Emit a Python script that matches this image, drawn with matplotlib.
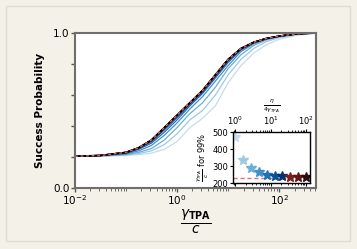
import numpy as np
import matplotlib as mpl
mpl.use('Agg')
import matplotlib.pyplot as plt
from matplotlib.patches import Rectangle

plt.rcParams['mathtext.fontset'] = 'dejavusans'

# main panel: success probability vs gamma_TPA / c
x_pts = [0.01, 0.0316, 0.1, 0.178, 0.316, 0.562, 1.0, 1.78, 3.16, 5.62,
         10.0, 17.8, 31.6, 56.2, 100.0, 224.0, 525.0]
c1 = [.205, .205, .21, .215, .225, .25, .30, .39, .45, .53, .68, .79, .87, .925, .96, .985, .998]
c2 = [.205, .206, .213, .222, .24, .28, .35, .44, .50, .60, .73, .83, .90, .945, .97, .99, .999]
c3 = [.205, .207, .216, .23, .255, .31, .39, .48, .55, .65, .77, .86, .92, .955, .975, .992, 1.0]
c4 = [.205, .208, .22, .24, .275, .34, .42, .51, .59, .69, .79, .88, .93, .96, .978, .994, 1.0]
c5 = [.205, .209, .223, .25, .29, .36, .44, .53, .61, .71, .81, .89, .935, .962, .979, .994, 1.0]
c6 = [.205, .21, .226, .255, .30, .375, .455, .54, .62, .72, .82, .895, .938, .964, .98, .995, 1.0]
c7 = [.205, .21, .228, .258, .305, .385, .465, .545, .625, .725, .825, .898, .94, .965, .98, .995, 1.0]
ref = [.205, .21, .23, .26, .31, .39, .47, .55, .63, .73, .83, .90, .94, .965, .98, .995, 1.0]

# inset: gamma/c needed for 99% vs eta/(4 gamma)
eta_ratio = [1.0, 1.67, 2.78, 4.64, 7.74, 12.9, 21.5, 35.9, 59.9, 100.0]
gamma_99 = [469, 335, 286, 265, 249, 243, 239, 235, 234, 234]
gamma_ref = 231

blues = [plt.cm.Blues(v) for v in np.linspace(0.25, 1.0, 7)]
reds = ['#7d1f1f', '#5e1616', '#2a0d0d']
colors = blues + reds

fig = plt.figure(figsize=(3.57, 2.49), dpi=100)
fig.patch.set_facecolor('#f4f1e9')
fig.patches.append(Rectangle((6/357, 8/249), 344/357, 235/249, transform=fig.transFigure,
                             fill=False, edgecolor='#e0dbce', lw=1))

ax = fig.add_axes([75/357, 61/249, 241/357, 155/249])
ax.set_facecolor('white')
for i, c in enumerate([c1, c2, c3, c4, c5, c6, c7]):
    ax.plot(x_pts, c, color=blues[i], lw=0.9)
for col in reds:
    ax.plot(x_pts, ref, color=col, lw=1.0)
ax.plot(x_pts, ref, color='black', lw=1.2)
ax.plot(x_pts, ref, color='#e06060', lw=1.0, ls='--', dashes=(2, 2))

ax.set_xscale('log')
ax.set_xlim(0.01, 525)
ax.set_ylim(0, 1)
ax.set_xticks([1e-2, 1, 1e2])
ax.xaxis.set_minor_locator(mpl.ticker.LogLocator(base=10, subs=np.arange(1, 10), numticks=20))
ax.xaxis.set_minor_formatter(mpl.ticker.NullFormatter())
ax.set_yticks([0, 0.2, 0.4, 0.6, 0.8, 1.0])
ax.set_yticklabels(['0.0', '', '', '', '', '1.0'])
ax.tick_params(labelsize=7.5, color='#555555', width=1.0, length=3, pad=1)
ax.tick_params(which='minor', color='#555555', length=1.8)
for s in ax.spines.values():
    s.set_color('#6e6e6e')
    s.set_linewidth(1.5)
ax.set_ylabel('Success Probability', fontsize=7.5, fontweight='bold', labelpad=6)
ax.set_xlabel(r'$\boldsymbol{\frac{\gamma_{\mathbf{TPA}}}{c}}$', fontsize=14, labelpad=0)

# inset
ins = fig.add_axes([233/357, 66/249, 77/357, 51/249])
ins.set_facecolor('white')
ins.axhline(gamma_ref, color='#e07070', ls='--', lw=1.0, dashes=(3, 2), zorder=1)
for i in range(len(eta_ratio)):
    ins.plot(eta_ratio[i], gamma_99[i], marker='*', ms=7, color=colors[i], ls='none', zorder=2)
ins.set_xscale('log')
ins.set_xlim(0.87, 129)
ins.set_ylim(200, 500)
ins.set_yticks([200, 300, 400, 500])
ins.xaxis.tick_top()
ins.xaxis.set_label_position('top')
ins.tick_params(axis='x', which='both', top=True, bottom=True, labeltop=True, labelbottom=False)
ins.tick_params(labelsize=6, length=2.5, pad=1)
ins.tick_params(which='minor', length=1.5)
ins.set_xlabel(r'$\frac{\eta}{4\gamma_{TPA}}$', fontsize=6, labelpad=5)
ins.set_ylabel(r'$\frac{\gamma_{TPA}}{c}$ for 99%', fontsize=6, labelpad=1)
for s in ins.spines.values():
    s.set_linewidth(1.0)

fig.savefig('out.png', dpi=100, facecolor=fig.get_facecolor())
